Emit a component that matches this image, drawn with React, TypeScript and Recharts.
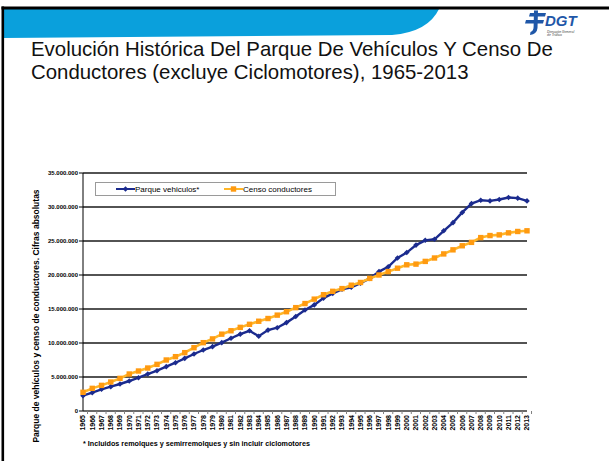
import React from 'react';
import { LineChart, Line, XAxis, YAxis, CartesianGrid, Legend } from 'recharts';

const years = [
  '1965', '1966', '1967', '1968', '1969', '1970', '1971', '1972', '1973', '1974',
  '1975', '1976', '1977', '1978', '1979', '1980', '1981', '1982', '1983', '1984',
  '1985', '1986', '1987', '1988', '1989', '1990', '1991', '1992', '1993', '1994',
  '1995', '1996', '1997', '1998', '1999', '2000', '2001', '2002', '2003', '2004',
  '2005', '2006', '2007', '2008', '2009', '2010', '2011', '2012', '2013',
];

const parqueVehiculos = [
  2250000, 2700000, 3190000, 3580000, 3970000, 4410000, 4900000, 5440000, 5930000, 6520000,
  7100000, 7740000, 8380000, 8970000, 9460000, 10050000, 10700000, 11300000, 11800000, 11000000,
  11900000, 12250000, 13000000, 13900000, 14850000, 15600000, 16600000, 17300000, 17900000, 18200000,
  18800000, 19500000, 20500000, 21200000, 22500000, 23300000, 24400000, 25100000, 25250000, 26500000,
  27700000, 29200000, 30500000, 31000000, 30900000, 31100000, 31400000, 31300000, 30900000,
];

const censoConductores = [
  2750000, 3330000, 3770000, 4260000, 4800000, 5440000, 5880000, 6320000, 6860000, 7500000,
  7990000, 8580000, 9310000, 10050000, 10600000, 11300000, 11800000, 12300000, 12750000, 13200000,
  13600000, 14100000, 14600000, 15200000, 15800000, 16450000, 17100000, 17600000, 18000000, 18500000,
  18900000, 19500000, 20000000, 20500000, 21000000, 21500000, 21600000, 22000000, 22500000, 23100000,
  23700000, 24300000, 24800000, 25500000, 25800000, 25900000, 26200000, 26400000, 26500000,
];

const yTicks = [0, 5000000, 10000000, 15000000, 20000000, 25000000, 30000000, 35000000];

const seriesOrder = ['parque', 'censo'];
const seriesNames = { parque: 'Parque vehiculos*', censo: 'Censo conductores' };
const titleLines = [
  'Evolución Histórica Del Parque De Vehículos Y Censo De',
  'Conductores (excluye Ciclomotores), 1965-2013',
];
const yAxisTitle = 'Parque de vehículos y censo de conductores. Cifras absolutas';
const footnote = '* Incluidos remolques y semirremolques y sin incluir ciclomotores';

const data = years.map((year, i) => ({
  year,
  parque: parqueVehiculos[i],
  censo: censoConductores[i],
}));

const FONT = '"Liberation Sans", Arial, Helvetica, sans-serif';
const BLUE = '#1b2b8e';
const ORANGE_LINE = '#ffb628';
const ORANGE_MARK = '#ff9a10';

const fmt = (v: number) => (v === 0 ? '0' : v.toLocaleString('de-DE'));

const BlueDot = (props: any) => {
  const { cx, cy } = props;
  if (cx == null || cy == null) return null;
  return <path d={`M${cx},${cy - 2.8} L${cx + 2.8},${cy} L${cx},${cy + 2.8} L${cx - 2.8},${cy} Z`} fill={BLUE} />;
};

const OrangeDot = (props: any) => {
  const { cx, cy } = props;
  if (cx == null || cy == null) return null;
  return <rect x={cx - 2.7} y={cy - 2.7} width={5.4} height={5.4} fill={ORANGE_MARK} />;
};

const XTick = (props: any) => {
  const { x, y, payload } = props;
  const half = payload && payload.offset ? payload.offset : 4.53;
  return (
    <g>
      <line x1={x + half} y1={y} x2={x + half} y2={y + 3} stroke="#808080" strokeWidth={1} />
      <text
        transform={`translate(${x},${y + 4}) rotate(-90)`}
        textAnchor="end"
        dy="0.35em"
        fontSize={7}
        fontWeight="bold"
        fontFamily={FONT}
        fill="#000"
      >
        {payload.value}
      </text>
    </g>
  );
};

const LegendIcon = ({ kind }: { kind: string }) => (
  <svg width={19} height={8} style={{ display: 'block' }}>
    <line x1={0} y1={4} x2={19} y2={4} stroke={kind === 'parque' ? BLUE : ORANGE_LINE} strokeWidth={2} />
    {kind === 'parque' ? (
      <path d="M9.5,1.2 L12.3,4 L9.5,6.8 L6.7,4 Z" fill={BLUE} />
    ) : (
      <rect x={6.8} y={1.3} width={5.4} height={5.4} fill={ORANGE_MARK} />
    )}
  </svg>
);

const renderLegend = (props: any) => {
  const payload = [...(props.payload || [])].sort(
    (a: any, b: any) => seriesOrder.indexOf(a.dataKey) - seriesOrder.indexOf(b.dataKey)
  );
  return (
    <div
      style={{
        width: 241,
        height: 14,
        boxSizing: 'border-box',
        border: '1px solid #9a9a9a',
        background: '#fff',
        display: 'flex',
        alignItems: 'center',
        paddingLeft: 20,
        fontFamily: FONT,
        fontSize: 8,
        color: '#000',
      }}
    >
      {payload.map((entry: any, idx: number) => (
        <div
          key={idx}
          style={{ display: 'flex', alignItems: 'center', width: idx === 0 ? 108 : undefined, whiteSpace: 'nowrap' }}
        >
          <LegendIcon kind={entry.dataKey} />
          <span>{entry.value}</span>
        </div>
      ))}
    </div>
  );
};

export default function App() {
  return (
    <div style={{ position: 'relative', width: 609, height: 461, background: '#fff', overflow: 'hidden', fontFamily: FONT }}>
      <style>{`body{margin:0;}`}</style>
      <svg width={609} height={461} style={{ position: 'absolute', left: 0, top: 0 }}>
        {/* banner */}
        <path d="M3,9 L439,9 Q428,32 392,35 L3,38 Z" fill="#0aa0dc" />
        {/* frame */}
        <rect x={1.5} y={6.5} width={608} height={3} fill="#000" />
        <rect x={1.5} y={6.5} width={2.6} height={455} fill="#000" />
        {/* logo */}
        <g fill="#1f57a8">
          <path d="M530,13 L546,13 L545,16.5 L529,16.5 Z" />
          <path d="M526,20 L544,20 L543,23.5 L525,23.5 Z" />
          <path d="M534,10.5 L538,10.5 L537.5,28 Q537,34 530,35 L530.5,32 Q533.5,31 533.6,27 Z" />
          <text x={545} y={26} fontSize={15} fontWeight="bold" fontStyle="italic" fontFamily={FONT}>
            DGT
          </text>
        </g>
        <text x={547} y={32.6} fontSize={3.4} fontStyle="italic" fill="#444" fontFamily={FONT}>
          Dirección General
        </text>
        <text x={547} y={36.4} fontSize={3.4} fontStyle="italic" fill="#444" fontFamily={FONT}>
          de Tráfico
        </text>
        {/* title */}
        {titleLines.map((t, i) => (
          <text key={i} x={31} y={56 + i * 22.5} fontSize={20.4} fill="#111" fontFamily={FONT}>
            {t}
          </text>
        ))}
        {/* y axis title */}
        <text
          transform="translate(36,316) rotate(-90)"
          textAnchor="middle"
          dy="0.35em"
          fontSize={8.5}
          fontWeight="bold"
          fontFamily={FONT}
          fill="#000"
        >
          {yAxisTitle}
        </text>
        {/* footnote */}
        <text x={83} y={446} fontSize={7.2} fontWeight="bold" fontFamily={FONT} fill="#000">
          {footnote}
        </text>
      </svg>
      <div style={{ position: 'absolute', left: 0, top: 0 }}>
        <LineChart
          width={609}
          height={461}
          data={data}
          margin={{ top: 173, right: 82, bottom: 20, left: 43 }}
        >
          <CartesianGrid vertical={false} stroke="#1a1a1a" strokeWidth={1.3} />
          <XAxis
            dataKey="year"
            type="category"
            interval={0}
            height={30}
            tickLine={false}
            tickSize={0}
            tickMargin={0}
            stroke="#808080"
            tick={<XTick />}
          />
          <YAxis
            width={40}
            domain={[0, 35000000]}
            ticks={yTicks}
            interval={0}
            tickFormatter={fmt}
            stroke="#000"
            tickSize={4}
            tickMargin={1}
            tick={{ fontSize: 6, fontWeight: 'bold', fill: '#000', fontFamily: FONT }}
          />
          <Legend
            layout="vertical"
            align="center"
            verticalAlign="middle"
            content={renderLegend}
            wrapperStyle={{ left: 95, top: 182, width: 241 }}
          />
          <Line
            dataKey="parque"
            name={seriesNames.parque}
            type="linear"
            stroke={BLUE}
            strokeWidth={2.4}
            dot={<BlueDot />}
            activeDot={false}
            isAnimationActive={false}
          />
          <Line
            dataKey="censo"
            name={seriesNames.censo}
            type="linear"
            stroke={ORANGE_LINE}
            strokeWidth={2.6}
            dot={<OrangeDot />}
            activeDot={false}
            isAnimationActive={false}
          />
        </LineChart>
      </div>
    </div>
  );
}
